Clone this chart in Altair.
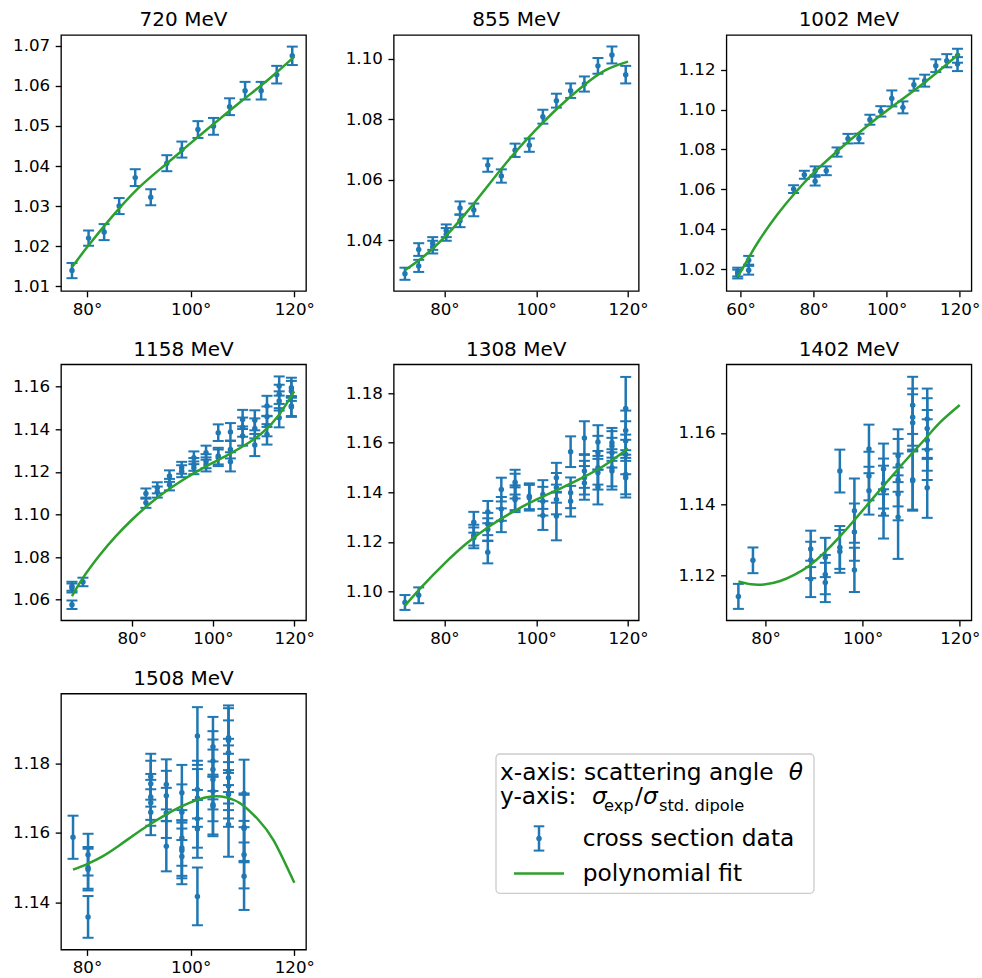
import altair as alt
import pandas as pd

BLUE = "#1f77b4"
GREEN = "#2ca02c"
FONT = "DejaVu Sans"

# ---------------- 720 MeV ----------------
theta_720 = [77.1, 80.3, 83.3, 86.2, 89.3, 92.3, 95.4, 98.3, 101.4, 104.4, 107.5, 110.5, 113.6, 116.6, 119.6]
ratio_720 = [1.0139, 1.0220, 1.0235, 1.0300, 1.0371, 1.0322, 1.0407, 1.0441, 1.0491, 1.0499, 1.0548, 1.0588, 1.0588, 1.0628, 1.0675]
err_720 = [0.0019, 0.0019, 0.0020, 0.0020, 0.0021, 0.0020, 0.0020, 0.0020, 0.0021, 0.0021, 0.0021, 0.0022, 0.0022, 0.0022, 0.0023]
fit_theta_720 = [77.1, 80.0, 85.0, 90.0, 95.0, 100.0, 105.0, 110.0, 115.0, 120.0]
fit_720 = [1.0147, 1.0197, 1.0276, 1.0346, 1.0402, 1.0457, 1.0511, 1.0564, 1.0616, 1.0673]

# ---------------- 855 MeV ----------------
theta_855 = [71.4, 74.4, 74.4, 77.45, 77.45, 80.4, 80.4, 83.4, 83.4, 86.4, 89.45, 92.4, 95.4, 98.5, 101.45, 104.4, 107.5, 110.5, 113.45, 116.5, 119.5]
ratio_855 = [1.0290, 1.0370, 1.0316, 1.0390, 1.0378, 1.0432, 1.0420, 1.0507, 1.0465, 1.0501, 1.0649, 1.0613, 1.0698, 1.0715, 1.0809, 1.0862, 1.0895, 1.0917, 1.0977, 1.1013, 1.0948]
err_855 = [0.0020, 0.0021, 0.0020, 0.0021, 0.0021, 0.0021, 0.0021, 0.0022, 0.0021, 0.0021, 0.0022, 0.0022, 0.0022, 0.0022, 0.0023, 0.0023, 0.0024, 0.0025, 0.0026, 0.0028, 0.0029]
fit_theta_855 = [71.4, 75.0, 80.0, 85.0, 90.0, 95.0, 100.0, 105.0, 110.0, 115.0, 120.0]
fit_855 = [1.0302, 1.0341, 1.0410, 1.0496, 1.0591, 1.0684, 1.0767, 1.0842, 1.0908, 1.0962, 1.0991]

# ---------------- 1002 MeV ----------------
theta_1002 = [59.2, 59.2, 62.2, 62.2, 74.5, 77.45, 80.4, 80.4, 83.45, 86.4, 89.4, 92.4, 95.4, 98.4, 101.4, 104.45, 107.45, 110.4, 113.45, 116.45, 119.4, 119.4]
ratio_1002 = [1.0185, 1.0175, 1.0244, 1.0194, 1.0601, 1.0673, 1.0693, 1.0641, 1.0693, 1.0787, 1.0854, 1.0855, 1.0949, 1.0991, 1.1056, 1.1011, 1.1125, 1.1145, 1.1220, 1.1245, 1.1270, 1.1228]
err_1002 = [0.0022, 0.0022, 0.0022, 0.0022, 0.0020, 0.0020, 0.0022, 0.0022, 0.0022, 0.0023, 0.0024, 0.0024, 0.0025, 0.0026, 0.0040, 0.0030, 0.0030, 0.0030, 0.0032, 0.0033, 0.0035, 0.0035]
fit_theta_1002 = [59.2, 62.0, 65.0, 70.0, 75.0, 80.0, 85.0, 90.0, 95.0, 100.0, 105.0, 110.0, 115.0, 120.0]
fit_1002 = [1.0161, 1.0250, 1.0342, 1.0472, 1.0584, 1.0682, 1.0767, 1.0847, 1.0923, 1.0994, 1.1062, 1.1131, 1.1205, 1.1282]

# ---------------- 1158 MeV ----------------
theta_1158 = [65.3, 65.3, 65.3, 68.0, 83.5, 83.5, 86.3, 86.3, 89.3, 89.3, 92.3, 92.3,
              95.3, 95.3, 95.3, 98.3, 98.3, 98.3, 101.3, 101.3, 101.3, 104.3, 104.3, 104.3,
              107.3, 107.3, 107.3, 110.3, 110.3, 110.3, 113.3, 113.3, 113.3, 113.3,
              116.3, 116.3, 116.3, 116.3, 119.3, 119.3, 119.3, 119.3]
ratio_1158 = [1.0576, 1.0655, 1.0663, 1.0683, 1.1098, 1.1055, 1.1125, 1.1105, 1.1180, 1.1140, 1.1219, 1.1203,
              1.1266, 1.1219, 1.1235, 1.1290, 1.1250, 1.1235, 1.1384, 1.1274, 1.1266, 1.1387, 1.1305, 1.1247,
              1.1446, 1.1410, 1.1368, 1.1442, 1.1404, 1.1326, 1.1509, 1.1459, 1.1415, 1.1376,
              1.1603, 1.1564, 1.1533, 1.1454, 1.1595, 1.1580, 1.1509, 1.1505]
err_1158 = [0.0020, 0.0021, 0.0021, 0.0020, 0.0024, 0.0024, 0.0026, 0.0026, 0.0027, 0.0027, 0.0028, 0.0028,
            0.0030, 0.0030, 0.0030, 0.0033, 0.0033, 0.0033, 0.0039, 0.0039, 0.0039, 0.0042, 0.0042, 0.0045,
            0.0045, 0.0045, 0.0045, 0.0047, 0.0047, 0.0052, 0.0048, 0.0048, 0.0048, 0.0048,
            0.0045, 0.0045, 0.0045, 0.0045, 0.0047, 0.0047, 0.0047, 0.0047]
fit_theta_1158 = [65.3, 68.0, 72.0, 76.0, 80.0, 84.0, 88.0, 92.0, 96.0, 100.0, 104.0, 108.0, 112.0, 116.0, 120.0]
fit_1158 = [1.0616, 1.0702, 1.0806, 1.0896, 1.0974, 1.1043, 1.1103, 1.1155, 1.1201, 1.1243, 1.1283, 1.1327, 1.1381, 1.1461, 1.1578]

# ---------------- 1308 MeV ----------------
theta_1308 = [71.4, 74.4, 86.4, 86.4, 86.4, 89.45, 89.45, 89.45, 89.45, 92.4, 92.4, 92.4,
              95.4, 95.4, 95.4, 95.4, 98.5, 98.5, 101.45, 101.45, 101.45, 104.4, 104.4, 104.4, 104.4,
              107.5, 107.5, 107.5, 110.5, 110.5, 110.5, 110.5, 113.45, 113.45, 113.45, 113.45, 113.45,
              116.5, 116.5, 116.5, 116.5, 116.5, 119.5, 119.5, 119.5, 119.5, 119.5, 119.5]
ratio_1308 = [1.0955, 1.0984, 1.1279, 1.1227, 1.1216, 1.1320, 1.1272, 1.1250, 1.1158, 1.1411, 1.1333, 1.1287,
              1.1441, 1.1425, 1.1378, 1.1370, 1.1384, 1.1378, 1.1391, 1.1364, 1.1306, 1.1459, 1.1418, 1.1371, 1.1304,
              1.1564, 1.1398, 1.1364, 1.1619, 1.1486, 1.1459, 1.1438, 1.1603, 1.1560, 1.1499, 1.1479, 1.1421,
              1.1600, 1.1587, 1.1560, 1.1499, 1.1486, 1.1739, 1.1650, 1.1607, 1.1553, 1.1472, 1.1459]
err_1308 = [0.0030, 0.0032, 0.0042, 0.0042, 0.0042, 0.0045, 0.0045, 0.0045, 0.0045, 0.0048, 0.0048, 0.0048,
            0.0050, 0.0050, 0.0050, 0.0050, 0.0052, 0.0052, 0.0058, 0.0058, 0.0058, 0.0060, 0.0060, 0.0060, 0.0098,
            0.0062, 0.0062, 0.0062, 0.0068, 0.0068, 0.0068, 0.0068, 0.0068, 0.0068, 0.0068, 0.0068, 0.0070,
            0.0060, 0.0060, 0.0060, 0.0075, 0.0075, 0.0127, 0.0080, 0.0080, 0.0080, 0.0080, 0.0080]
fit_theta_1308 = [71.4, 75.0, 80.0, 85.0, 90.0, 95.0, 100.0, 105.0, 110.0, 115.0, 120.0]
fit_1308 = [1.0942, 1.1017, 1.1112, 1.1196, 1.1265, 1.1322, 1.1370, 1.1413, 1.1458, 1.1510, 1.1577]

# ---------------- 1402 MeV ----------------
theta_1402 = [74.4, 77.4, 89.3, 89.3, 89.3, 92.3, 92.3, 92.3, 95.3, 95.3, 95.3, 98.3, 98.3, 98.3,
              101.3, 101.3, 101.3, 104.3, 104.3, 104.3, 104.3, 107.3, 107.3, 107.3, 107.3, 107.3,
              110.3, 110.3, 110.3, 110.3, 110.3, 113.3, 113.3, 113.3, 113.3, 113.3]
ratio_1402 = [1.1142, 1.1243, 1.1275, 1.1244, 1.1191, 1.1251, 1.1203, 1.1181, 1.1493, 1.1279, 1.1268, 1.1382, 1.1322, 1.1216,
              1.1555, 1.1479, 1.1438, 1.1499, 1.1458, 1.1438, 1.1373, 1.1536, 1.1509, 1.1468, 1.1429, 1.1364,
              1.1677, 1.1644, 1.1628, 1.1469, 1.1466, 1.1639, 1.1612, 1.1579, 1.1553, 1.1446]
err_1402 = [0.0035, 0.0036, 0.0051, 0.0051, 0.0051, 0.0055, 0.0055, 0.0055, 0.0060, 0.0060, 0.0060, 0.0090, 0.0080, 0.0062,
            0.0068, 0.0068, 0.0067, 0.0071, 0.0070, 0.0070, 0.0069, 0.0074, 0.0074, 0.0074, 0.0074, 0.0117,
            0.0080, 0.0080, 0.0080, 0.0084, 0.0084, 0.0085, 0.0085, 0.0085, 0.0085, 0.0084]
fit_theta_1402 = [74.4, 77.0, 80.0, 83.0, 86.0, 89.0, 92.0, 95.0, 98.0, 101.0, 104.0, 107.0, 110.0, 113.0, 116.0, 120.0]
fit_1402 = [1.1184, 1.1176, 1.1176, 1.1185, 1.1203, 1.1228, 1.1263, 1.1305, 1.1351, 1.1399, 1.1447, 1.1494, 1.1540, 1.1585, 1.1630, 1.1678]

# ---------------- 1508 MeV ----------------
theta_1508 = [77.3, 80.2, 80.2, 80.2, 80.2, 92.3, 92.3, 92.3, 92.3, 92.3, 95.3, 95.3, 95.3, 95.3,
              98.3, 98.3, 98.3, 98.3, 98.3, 98.3, 101.3, 101.3, 101.3, 101.3, 101.3, 101.3,
              104.3, 104.3, 104.3, 104.3, 104.3, 104.3, 104.3,
              107.3, 107.3, 107.3, 107.3, 107.3, 107.3, 107.3, 107.3, 110.3, 110.3, 110.3, 110.3, 110.3]
ratio_1508 = [1.1587, 1.1537, 1.1499, 1.1494, 1.1358, 1.1761, 1.1741, 1.1703, 1.1686, 1.1659, 1.1739, 1.1706, 1.1657, 1.1561,
              1.1715, 1.1659, 1.1585, 1.1556, 1.1549, 1.1532, 1.1878, 1.1724, 1.1700, 1.1640, 1.1611, 1.1417,
              1.1847, 1.1806, 1.1782, 1.1753, 1.1719, 1.1681, 1.1676,
              1.1873, 1.1865, 1.1830, 1.1777, 1.1758, 1.1734, 1.1710, 1.1624, 1.1713, 1.1616, 1.1612, 1.1537, 1.1475]
err_1508 = [0.0062, 0.0060, 0.0060, 0.0060, 0.0060, 0.0066, 0.0066, 0.0066, 0.0066, 0.0066, 0.0072, 0.0072, 0.0072, 0.0072,
            0.0080, 0.0080, 0.0080, 0.0080, 0.0080, 0.0080, 0.0083, 0.0083, 0.0083, 0.0083, 0.0083, 0.0083,
            0.0086, 0.0086, 0.0086, 0.0086, 0.0086, 0.0086, 0.0086,
            0.0093, 0.0093, 0.0093, 0.0093, 0.0093, 0.0093, 0.0093, 0.0093, 0.0097, 0.0097, 0.0097, 0.0097, 0.0097]
fit_theta_1508 = [77.3, 80.0, 83.0, 86.0, 89.0, 92.0, 95.0, 98.0, 101.0, 104.0, 107.0, 110.0, 113.0, 116.0, 120.0]
fit_1508 = [1.1494, 1.1510, 1.1532, 1.1561, 1.1593, 1.1623, 1.1650, 1.1674, 1.1693, 1.1704, 1.1701, 1.1680, 1.1638, 1.1578, 1.1456]

PW, PH = 245, 256


def panel(title, theta, ratio, err, fth, fval, xdom, ydom, xticks, yticks):
    pts = pd.DataFrame({
        "theta": theta,
        "ratio": ratio,
        "lo": [r - e for r, e in zip(ratio, err)],
        "hi": [r + e for r, e in zip(ratio, err)],
    })
    fit = pd.DataFrame({"theta": fth, "ratio": fval})
    xs = alt.Scale(domain=xdom, nice=False, zero=False)
    ys = alt.Scale(domain=ydom, nice=False, zero=False)
    xax = alt.Axis(values=xticks, labelExpr="datum.value + '°'", title=None)
    yax = alt.Axis(values=yticks, format=".2f", title=None)
    X = alt.X("theta:Q", scale=xs, axis=xax)
    base = alt.Chart(pts)
    bars = base.mark_rule(color=BLUE, strokeWidth=2.5).encode(
        x=X, y=alt.Y("lo:Q", scale=ys, axis=yax), y2="hi:Q")
    cap_lo = base.mark_tick(color=BLUE, orient="horizontal", size=11, thickness=2, opacity=1).encode(
        x=X, y=alt.Y("lo:Q", scale=ys, axis=yax))
    cap_hi = base.mark_tick(color=BLUE, orient="horizontal", size=11, thickness=2, opacity=1).encode(
        x=X, y=alt.Y("hi:Q", scale=ys, axis=yax))
    dots = base.mark_circle(color=BLUE, size=30, opacity=1).encode(
        x=X, y=alt.Y("ratio:Q", scale=ys, axis=yax))
    line = alt.Chart(fit).mark_line(color=GREEN, strokeWidth=2.5, interpolate="natural").encode(
        x=X, y=alt.Y("ratio:Q", scale=ys, axis=yax))
    return alt.layer(bars, cap_lo, cap_hi, dots, line).properties(
        width=PW, height=PH,
        title=alt.TitleParams(title, fontSize=20, font=FONT, fontWeight="normal", color="black",
                              anchor="middle", frame="group", baseline="alphabetic",
                              offset=9.3, dy=20.5),
    )


p720 = panel("720 MeV", theta_720, ratio_720, err_720, fit_theta_720, fit_720,
             [74.98, 122.25], [1.0088, 1.0727], [80, 100, 120],
             [1.01, 1.02, 1.03, 1.04, 1.05, 1.06, 1.07])
p855 = panel("855 MeV", theta_855, ratio_855, err_855, fit_theta_855, fit_855,
             [68.95, 122.33], [1.0233, 1.1079], [80, 100, 120],
             [1.04, 1.06, 1.08, 1.10])
p1002 = panel("1002 MeV", theta_1002, ratio_1002, err_1002, fit_theta_1002, fit_1002,
              [56.1, 123.2], [1.0090, 1.1374], [60, 80, 100, 120],
              [1.02, 1.04, 1.06, 1.08, 1.10, 1.12])
p1158 = panel("1158 MeV", theta_1158, ratio_1158, err_1158, fit_theta_1158, fit_1158,
              [62.6, 122.9], [1.0503, 1.1705], [80, 100, 120],
              [1.06, 1.08, 1.10, 1.12, 1.14, 1.16])
p1308 = panel("1308 MeV", theta_1308, ratio_1308, err_1308, fit_theta_1308, fit_1308,
              [68.95, 122.33], [1.0883, 1.1917], [80, 100, 120],
              [1.10, 1.12, 1.14, 1.16, 1.18])
p1402 = panel("1402 MeV", theta_1402, ratio_1402, err_1402, fit_theta_1402, fit_1402,
              [71.93, 122.4], [1.1075, 1.1792], [80, 100, 120],
              [1.12, 1.14, 1.16])
p1508 = panel("1508 MeV", theta_1508, ratio_1508, err_1508, fit_theta_1508, fit_1508,
              [74.98, 122.25], [1.1264, 1.2000], [80, 100, 120],
              [1.14, 1.16, 1.18])

# ---------------- legend panel (sits in grid cell 8, spills into the empty cell 9) ----------------
LFS = 23.3
SFS = 16.3


def txt(s, x, y, size=LFS, italic=False):
    return alt.Chart().mark_text(
        text=s, align="left", baseline="alphabetic", font=FONT, fontSize=size,
        fontStyle="italic" if italic else "normal", color="black",
    ).encode(x=alt.value(x), y=alt.value(y))


box = alt.Chart().mark_rect(
    fill="white", fillOpacity=0.8, stroke="#cccccc", strokeWidth=1.33, cornerRadius=4
).encode(x=alt.value(102.3), x2=alt.value(420.3), y=alt.value(60.4), y2=alt.value(199.7))

eb_rule = alt.Chart().mark_rule(color=BLUE, strokeWidth=2.5).encode(
    x=alt.value(145.3), y=alt.value(132.7), y2=alt.value(157))
eb_cap1 = alt.Chart().mark_rule(color=BLUE, strokeWidth=2).encode(
    x=alt.value(140), x2=alt.value(150.6), y=alt.value(132.7))
eb_cap2 = alt.Chart().mark_rule(color=BLUE, strokeWidth=2).encode(
    x=alt.value(140), x2=alt.value(150.6), y=alt.value(157))
eb_dot = alt.Chart().mark_circle(color=BLUE, size=30, opacity=1).encode(
    x=alt.value(145.3), y=alt.value(145))
fit_sym = alt.Chart().mark_rule(color=GREEN, strokeWidth=2.5).encode(
    x=alt.value(120.3), x2=alt.value(170.3), y=alt.value(180))

legend = alt.layer(
    box,
    txt("x-axis: scattering angle", 106.3, 86),
    txt("θ", 395, 86, italic=True),
    txt("y-axis:", 106.3, 110.4),
    txt("σ", 198.3, 110.4, italic=True),
    txt("exp", 210.3, 117, size=SFS),
    txt("/", 241.3, 110.4),
    txt("σ", 249.3, 110.4, italic=True),
    txt("std. dipole", 265.3, 117, size=SFS),
    eb_rule, eb_cap1, eb_cap2, eb_dot,
    txt("cross section data", 189, 152.7),
    fit_sym,
    txt("polynomial fit", 189, 187.7),
    data=alt.Data(values=[{"k": 0}]),
).properties(width=PW, height=PH, view=alt.ViewBackground(stroke=None))

chart = alt.concat(
    p720, p855, p1002, p1158, p1308, p1402, p1508, legend,
    columns=3,
    spacing=alt.RowColnumber(row=73.3, column=87.7),
    bounds="flush",
).properties(
    padding={"left": 11, "top": 9, "right": 0, "bottom": 0},
    background="white",
).configure_view(
    stroke="black", strokeWidth=1.33
).configure_axis(
    grid=False, domain=False, ticks=True, tickColor="black", tickWidth=1.33, tickSize=5.8,
    labelFont=FONT, labelFontSize=16.7, labelColor="black", labelPadding=5.5,
).configure_axisX(labelPadding=4.5)

chart.save("out.html", embed_options={"renderer": "svg", "actions": False})
